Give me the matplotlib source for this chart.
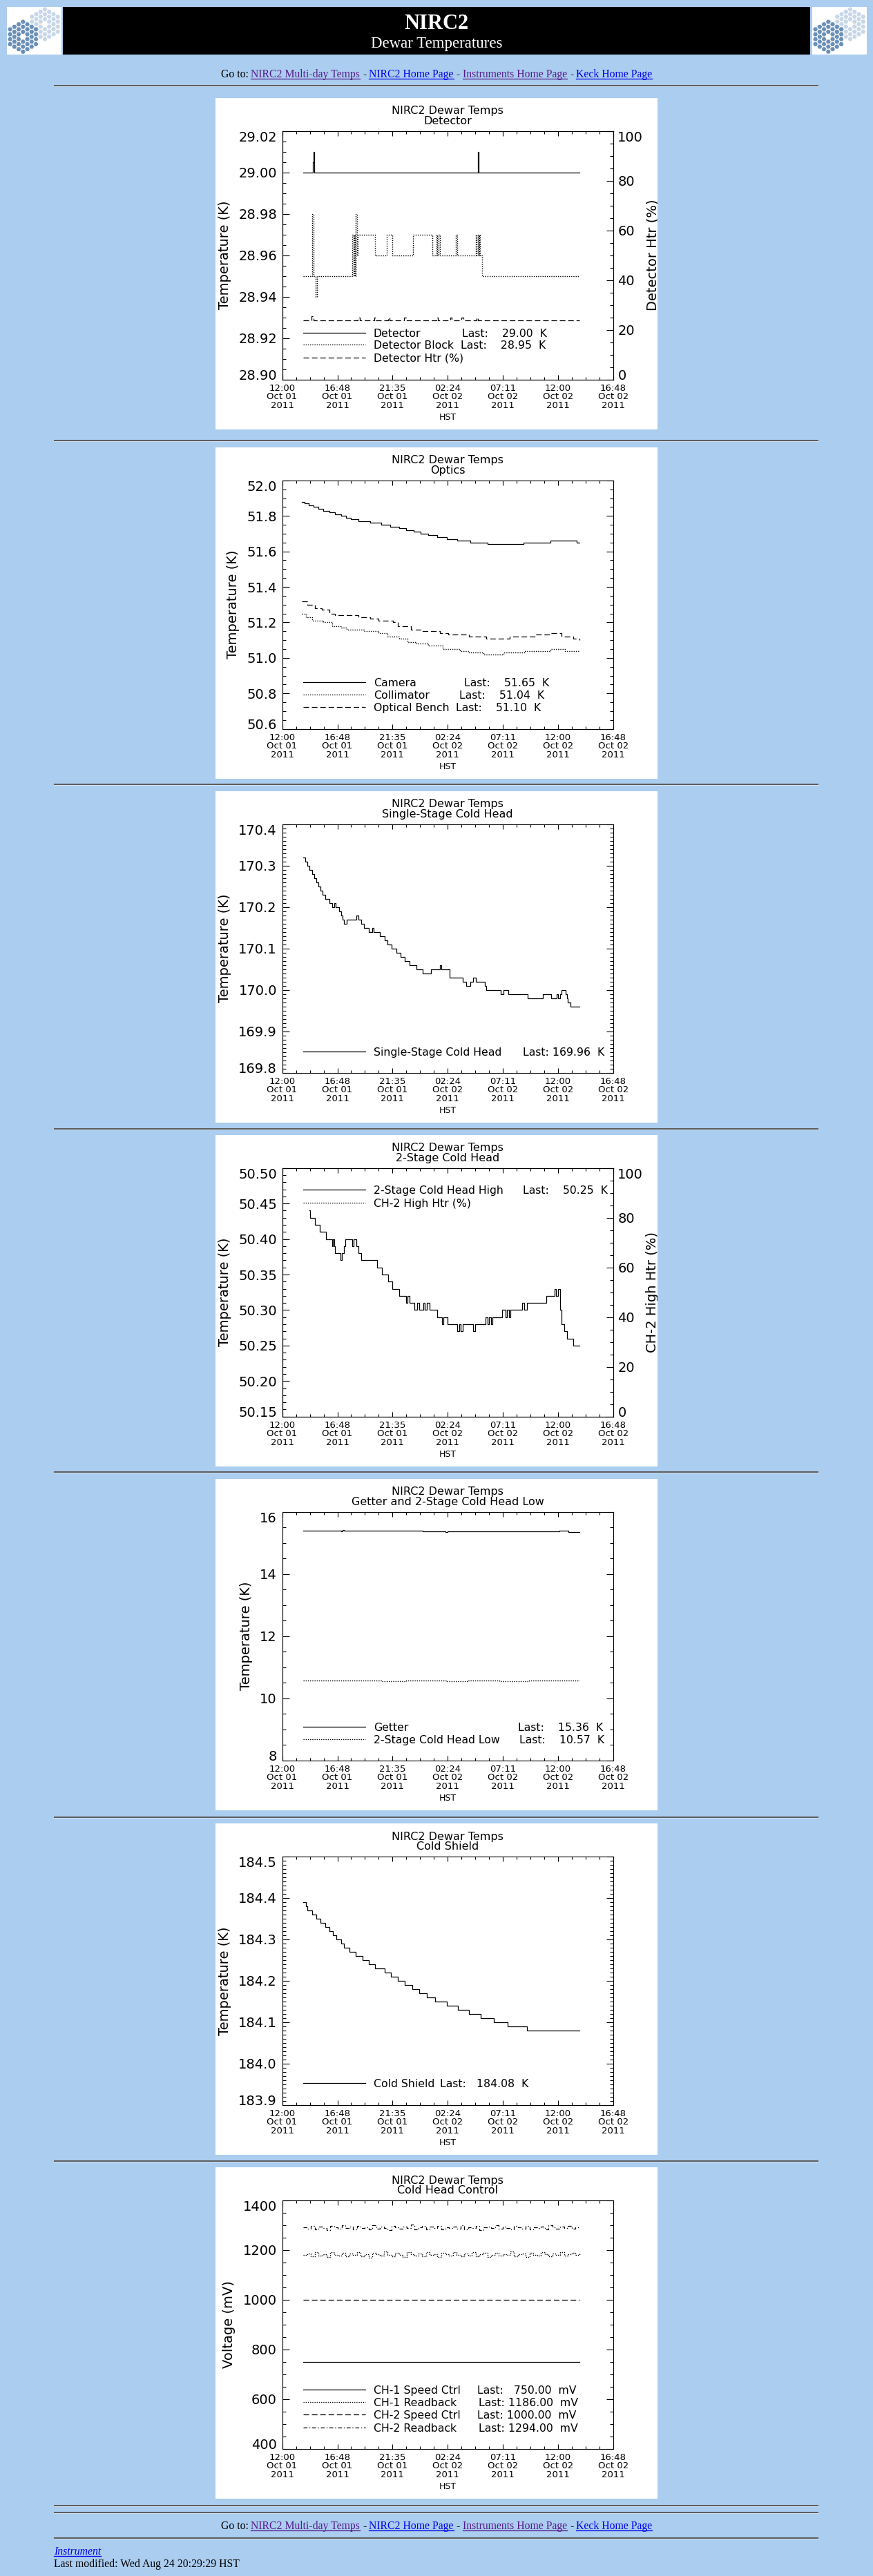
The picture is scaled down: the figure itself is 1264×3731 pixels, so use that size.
import numpy as np
import matplotlib
matplotlib.use('Agg')
import matplotlib.pyplot as plt
from matplotlib.patches import Rectangle, RegularPolygon
from matplotlib.ticker import FormatStrFormatter

W, H = 1264, 3731
PAGE_BG = '#abcdef'
LINK = '#0000ee'
VISITED = '#551a8b'

plt.rcParams['font.family'] = ['DejaVu Sans']
plt.rcParams['lines.scale_dashes'] = False

# ---- time axis: hours after 12:00 Oct 01 2011 (HST) ----
tick_hours = [0.0, 4.8, 9.6, 14.4, 19.2, 24.0, 28.8]
tick_labels = ['12:00\nOct 01\n2011', '16:48\nOct 01\n2011', '21:35\nOct 01\n2011',
               '02:24\nOct 02\n2011', '07:11\nOct 02\n2011', '12:00\nOct 02\n2011',
               '16:48\nOct 02\n2011']

# ---- Detector ----
det_hours = [1.82, 2.62, 2.66, 2.70, 2.76, 16.96, 17.00, 17.04, 17.10, 25.84]
det_temp = [29.00, 29.00, 29.005, 29.01, 29.00, 29.00, 29.005, 29.01, 29.00, 29.00]
block_hours = [1.82, 2.62, 2.74, 2.90, 3.00, 6.12, 6.19, 6.27, 6.35, 6.42,
               6.50, 6.58, 8.05, 9.10, 9.55, 11.35, 13.08, 13.40, 13.48, 13.60,
               13.70, 15.10, 15.20, 16.86, 16.93, 17.00, 17.08, 17.15, 17.23, 17.40,
               25.84]
block_temp = [28.95, 28.98, 28.95, 28.94, 28.95, 28.97, 28.95, 28.97, 28.95, 28.98,
              28.96, 28.97, 28.96, 28.97, 28.96, 28.97, 28.96, 28.97, 28.96, 28.97,
              28.96, 28.97, 28.96, 28.97, 28.96, 28.97, 28.96, 28.97, 28.96, 28.95,
              28.95]
htr_hours = [1.82, 2.55, 2.70, 6.60, 6.75, 8.00, 8.15, 9.20, 9.35, 10.60,
             10.75, 13.40, 13.55, 14.60, 14.75, 15.60, 15.75, 16.90, 17.05, 25.84]
htr_pct = [23.8, 25.5, 23.8, 25.0, 23.8, 25.0, 23.8, 25.0, 23.8, 25.0,
           23.8, 25.0, 23.8, 25.0, 23.8, 25.0, 23.8, 25.0, 23.8, 23.8]

# ---- Optics ----
cam_hours = [1.69, 1.95, 2.33, 2.71, 3.14, 3.59, 4.10, 4.60, 5.11, 5.56,
             5.99, 6.62, 7.64, 8.60, 9.41, 10.16, 10.80, 11.43, 12.06, 12.69,
             13.50, 14.34, 15.22, 16.36, 17.88, 20.99, 23.31, 25.64, 25.84]
cam_temp = [51.88, 51.87, 51.86, 51.85, 51.84, 51.83, 51.82, 51.81, 51.80, 51.79,
            51.78, 51.77, 51.76, 51.75, 51.74, 51.73, 51.72, 51.71, 51.70, 51.69,
            51.68, 51.67, 51.66, 51.65, 51.64, 51.65, 51.66, 51.65, 51.65]
coll_hours = [1.69, 2.07, 2.58, 3.59, 4.35, 5.11, 5.61, 7.13, 8.39, 9.15,
              10.16, 10.92, 11.68, 12.69, 13.96, 15.47, 16.23, 17.50, 19.27, 21.04,
              23.31, 24.58, 25.59, 25.84]
coll_temp = [51.25, 51.23, 51.21, 51.20, 51.18, 51.17, 51.16, 51.15, 51.14, 51.12,
             51.11, 51.09, 51.08, 51.07, 51.05, 51.04, 51.03, 51.02, 51.03, 51.04,
             51.05, 51.04, 51.04, 51.04]
bench_hours = [1.69, 2.20, 2.83, 3.46, 4.10, 4.60, 6.62, 7.64, 8.39, 9.66,
               10.04, 11.18, 12.19, 13.71, 14.46, 16.23, 17.75, 19.77, 22.05, 23.31,
               24.32, 25.34, 25.84]
bench_temp = [51.32, 51.30, 51.28, 51.27, 51.25, 51.24, 51.23, 51.22, 51.21, 51.20,
              51.18, 51.16, 51.15, 51.14, 51.13, 51.12, 51.11, 51.12, 51.13, 51.14,
              51.12, 51.11, 51.10]

# ---- Single-stage cold head ----
cold1_hours = [1.82, 2.00, 2.20, 2.38, 2.58, 2.76, 2.96, 3.14, 3.34, 3.51,
               3.72, 4.10, 4.35, 4.53, 4.65, 4.98, 5.11, 5.23, 5.36, 5.61,
               6.45, 6.62, 6.88, 7.13, 7.51, 7.81, 7.94, 8.52, 8.90, 9.15,
               9.53, 9.91, 10.29, 10.67, 11.05, 11.68, 12.19, 12.95, 13.71, 13.86,
               14.59, 15.73, 15.98, 16.36, 16.61, 16.87, 17.62, 17.75, 19.01, 19.22,
               19.65, 21.34, 22.68, 23.39, 23.89, 23.99, 24.15, 24.27, 24.63, 24.75,
               24.83, 25.08, 25.84]
cold1_temp = [170.32, 170.31, 170.30, 170.29, 170.28, 170.27, 170.26, 170.25, 170.24, 170.23,
              170.22, 170.21, 170.20, 170.21, 170.20, 170.19, 170.18, 170.17, 170.16, 170.17,
              170.18, 170.17, 170.16, 170.15, 170.14, 170.15, 170.14, 170.13, 170.12, 170.11,
              170.10, 170.09, 170.08, 170.07, 170.06, 170.05, 170.04, 170.05, 170.06, 170.05,
              170.03, 170.02, 170.01, 170.02, 170.03, 170.02, 170.01, 170.00, 169.99, 170.00,
              169.99, 169.98, 169.99, 169.98, 169.99, 169.98, 169.99, 170.00, 169.99, 169.98,
              169.97, 169.96, 169.96]

# ---- 2-stage cold head (high) ----
cold2_hours = [2.38, 2.45, 2.83, 3.29, 3.79, 4.35, 4.42, 4.53, 4.60, 5.06,
               5.19, 5.36, 5.51, 6.12, 6.22, 6.45, 6.62, 6.85, 8.27, 8.70,
               9.20, 9.55, 10.18, 10.80, 10.88, 11.10, 11.50, 11.75, 11.90, 12.25,
               12.40, 12.55, 12.85, 13.50, 13.90, 14.00, 14.40, 15.20, 15.38, 15.50,
               15.68, 16.60, 16.80, 17.70, 17.85, 18.00, 18.15, 18.30, 19.15, 19.40,
               19.55, 19.72, 19.85, 20.85, 21.05, 21.30, 22.95, 23.72, 23.82, 24.02,
               24.15, 24.20, 24.32, 24.55, 24.80, 25.30, 25.84]
cold2_temp = [50.44, 50.43, 50.42, 50.41, 50.40, 50.39, 50.40, 50.39, 50.38, 50.37,
              50.38, 50.39, 50.40, 50.39, 50.40, 50.39, 50.38, 50.37, 50.36, 50.35,
              50.34, 50.33, 50.32, 50.31, 50.32, 50.31, 50.30, 50.31, 50.30, 50.31,
              50.30, 50.31, 50.30, 50.29, 50.28, 50.29, 50.28, 50.27, 50.28, 50.27,
              50.28, 50.27, 50.28, 50.29, 50.28, 50.29, 50.28, 50.29, 50.30, 50.29,
              50.30, 50.29, 50.30, 50.31, 50.30, 50.31, 50.32, 50.33, 50.32, 50.33,
              50.32, 50.30, 50.28, 50.27, 50.26, 50.25, 50.25]

# ---- Getter and 2-stage cold head (low) ----
getter_hours = [1.82, 5.16, 5.25, 5.40, 5.70, 12.20, 12.30, 12.60, 14.20, 14.40,
                14.90, 24.00, 24.10, 24.90, 25.84]
getter_temp = [15.40, 15.38, 15.41, 15.39, 15.39, 15.37, 15.38, 15.37, 15.36, 15.38,
               15.37, 15.37, 15.39, 15.36, 15.36]
low_hours = [1.82, 5.5, 8.7, 10.8, 14.3, 16.2, 18.9, 21.5, 25.84]
low_temp = [10.57, 10.58, 10.56, 10.57, 10.55, 10.58, 10.56, 10.57, 10.57]

# ---- Cold shield ----
shield_hours = [1.82, 2.07, 2.20, 2.58, 2.96, 3.34, 3.72, 4.10, 4.40, 4.73,
                5.11, 5.36, 5.87, 6.37, 7.00, 7.51, 8.09, 8.90, 9.46, 10.04,
                10.67, 11.30, 11.93, 12.57, 13.33, 14.34, 15.27, 16.23, 17.29, 18.38,
                19.60, 21.29, 25.84]
shield_temp = [184.39, 184.38, 184.37, 184.36, 184.35, 184.34, 184.33, 184.32, 184.31, 184.30,
               184.29, 184.28, 184.27, 184.26, 184.25, 184.24, 184.23, 184.22, 184.21, 184.20,
               184.19, 184.18, 184.17, 184.16, 184.15, 184.14, 184.13, 184.12, 184.11, 184.10,
               184.09, 184.08, 184.08]

# ---- Cold head control (mV) ----
ctrl_hours = [1.84, 25.84]
ch1_speed = [750, 750]
ch2_speed = [1000, 1000]
readback_hours = [1.84 + i / 3 for i in range(73)]
ch1_readback = [1180, 1186, 1174, 1190, 1178, 1183, 1171, 1192, 1181, 1176,
                1188, 1173, 1185, 1179, 1191, 1175, 1184, 1170, 1189, 1182,
                1177, 1193, 1180, 1174, 1187, 1181, 1172, 1190, 1183, 1178,
                1186, 1175, 1192, 1179, 1184, 1171, 1188, 1182, 1176, 1191,
                1180, 1173, 1185, 1178, 1190, 1174, 1183, 1187, 1172, 1181,
                1189, 1176, 1184, 1179, 1193, 1175, 1182, 1186, 1171, 1188,
                1180, 1177, 1191, 1183, 1174, 1185, 1179, 1190, 1176, 1182,
                1187, 1180, 1186]
ch2_readback = [1292, 1286, 1298, 1284, 1295, 1289, 1281, 1297, 1290, 1285,
                1300, 1287, 1293, 1282, 1296, 1288, 1291, 1283, 1299, 1286,
                1294, 1289, 1280, 1297, 1292, 1285, 1295, 1288, 1301, 1284,
                1290, 1296, 1283, 1293, 1287, 1298, 1282, 1291, 1289, 1295,
                1286, 1299, 1284, 1292, 1288, 1296, 1281, 1290, 1294, 1287,
                1300, 1285, 1293, 1289, 1283, 1297, 1291, 1286, 1298, 1284,
                1292, 1288, 1295, 1282, 1299, 1290, 1286, 1294, 1289, 1297,
                1285, 1292, 1294]

# IDL linestyles, dash lengths in points (not scaled with width)
STYLES = {'solid': '-', 'dot': (0, (1.0, 1.3)), 'dash': (0, (5.8, 2.9)),
          'dashdot': (0, (4.0, 2.0, 1.0, 2.0))}

fig = plt.figure(figsize=(W / 100, H / 100), dpi=100, facecolor=PAGE_BG)
page = fig.add_axes([0, 0, 1, 1])
page.set_xlim(0, W)
page.set_ylim(H, 0)
page.axis('off')
renderer = fig.canvas.get_renderer()


def px_axes(x0, y0, w, h):
    return fig.add_axes([x0 / W, 1 - (y0 + h) / H, w / W, h / H])


def hrule(y):
    page.plot([78, 1185], [y, y], color='#5a5a5a', lw=1.4, solid_capstyle='butt')
    page.plot([78, 1185], [y + 1.2, y + 1.2], color='#d8e6f4', lw=0.6)


def logo(x0, y0):
    bg = Rectangle((x0, y0), 79, 69, facecolor='white', edgecolor='none')
    page.add_patch(bg)
    s = 7.2
    for (cx, cy), col in (((55, 25), '#c8d7e8'), ((23.3, 43.2), '#6a8fb8')):
        for q in range(-3, 4):
            for r in range(-3, 4):
                if abs(q + r) > 3 or (q == 0 and r == 0):
                    continue
                hx = x0 + cx + q * s * np.sqrt(3) / 2
                hy = y0 + cy + (r + q / 2) * s
                seg = RegularPolygon((hx, hy), 6, radius=3.4, orientation=np.pi / 6,
                                     facecolor=col, edgecolor='none')
                page.add_patch(seg)
                seg.set_clip_path(bg)


def text_w(t):
    return t.get_window_extent(renderer).width


def link_bar(y_base, target_w=623):
    pieces = [('Go to:', 'black', False), ('NIRC2 Multi-day Temps', VISITED, True),
              ('-', 'black', False), ('NIRC2 Home Page', LINK, True),
              ('-', 'black', False), ('Instruments Home Page', VISITED, True),
              ('-', 'black', False), ('Keck Home Page', LINK, True)]
    kw = dict(family='Liberation Serif', va='baseline', ha='left')
    size = 12.0
    probe1 = page.text(0, 0, 'a a', size=size, **kw)
    probe2 = page.text(0, 0, 'aa', size=size, **kw)
    gap = text_w(probe1) - text_w(probe2)
    probe1.remove()
    probe2.remove()
    texts = [page.text(0, y_base, s, color=c, size=size, **kw) for s, c, _ in pieces]
    total = sum(text_w(t) for t in texts) + gap * (len(texts) - 1)
    scale = target_w / total
    for t in texts:
        t.set_fontsize(size * scale)
    gap *= scale
    widths = [text_w(t) for t in texts]
    x = 632 - (sum(widths) + gap * (len(texts) - 1)) / 2
    for t, w, (_, c, ul) in zip(texts, widths, pieces):
        t.set_x(x)
        if ul:
            page.plot([x, x + w], [y_base + 2.3] * 2, color=c, lw=0.9)
        x += w + gap
    return size * scale


# ---- page header ----
logo(10, 10)
logo(1176, 10)
page.add_patch(Rectangle((91, 10), 1082, 69, facecolor='black', edgecolor='none'))
page.text(632, 41.7, 'NIRC2', color='white', family='Liberation Serif', weight='bold',
          size=22, ha='center', va='baseline')
page.text(632, 69, 'Dewar Temperatures', color='white', family='Liberation Serif',
          size=16.5, ha='center', va='baseline')
link_size = link_bar(112)
hrule(124)

BOX_X = 312


def make_panel(top, subtitle, ylim, major, minor, fmt, ylabel, legend_rows, legend_y,
               right=None):
    box = px_axes(BOX_X, top, 640, 480)
    box.set_xlim(0, 640)
    box.set_ylim(480, 0)
    box.set_xticks([])
    box.set_yticks([])
    for sp in box.spines.values():
        sp.set_visible(False)
    box.set_facecolor('white')
    box.text(336.3, 17.5, 'NIRC2 Dewar Temps', ha='center', va='center_baseline', size=11.5)
    box.text(336.3, 32.2, subtitle, ha='center', va='center_baseline', size=11.5)
    box.text(336.3, 460.7, 'HST', ha='center', va='center_baseline', size=9)

    # legend drawn IDL-style inside the plot window
    for (name, style, last, last_x), y in zip(legend_rows, legend_y):
        box.plot([127, 217], [y, y], color='black', lw=0.9, linestyle=STYLES[style])
        box.text(228.7, y, name, va='center_baseline', size=11.3)
        if last:
            box.text(last_x, y, last, va='center_baseline', size=11.3)

    ax = px_axes(BOX_X + 96.6, top + 47.8, 479.4, 359.9)
    ax.set_facecolor('none')
    for sp in ax.spines.values():
        sp.set_linewidth(0.8)
    ax.set_xlim(0, 28.8)
    ax.set_xticks(tick_hours)
    ax.set_xticklabels(tick_labels, linespacing=0.95, size=9.5)
    ax.set_xticks(np.arange(0, 28.81, 1.2), minor=True)
    ax.set_ylim(*ylim)
    ax.set_yticks(np.arange(ylim[0], ylim[1] + major / 2, major))
    ax.set_yticks(np.arange(ylim[0], ylim[1] + minor / 2, minor), minor=True)
    ax.yaxis.set_major_formatter(FormatStrFormatter(fmt))
    ax.tick_params(axis='x', which='major', direction='in', length=5.2, width=0.8,
                   top=True, pad=4.2)
    ax.tick_params(axis='x', which='minor', direction='in', length=2.6, width=0.8, top=True)
    ax.tick_params(axis='y', which='major', direction='in', length=6.9, width=0.8,
                   right=right is None, pad=5.5, labelsize=14)
    ax.tick_params(axis='y', which='minor', direction='in', length=3.5, width=0.8,
                   right=right is None)
    ax.set_ylabel(ylabel, size=14, labelpad=7.5)

    ax2 = None
    if right is not None:
        ax2 = ax.twinx()
        ax2.set_ylim(0, 100)
        ax2.set_yticks(range(0, 101, 20))
        ax2.set_yticks(range(0, 101, 5), minor=True)
        ax2.tick_params(axis='y', which='major', direction='in', length=6.9, width=0.8,
                        pad=4.5, labelsize=14)
        ax2.tick_params(axis='y', which='minor', direction='in', length=3.5, width=0.8)
        for sp in ax2.spines.values():
            sp.set_linewidth(0.8)
        ax2.set_ylabel(right, size=14, labelpad=3)
        ax2.yaxis.label.set_clip_on(True)
        ax2.yaxis.label.set_clip_box(box.bbox)
        labs = ax2.get_yticklabels()
        labs[0].set_va('baseline')
        labs[-1].set_va('top')

    labs = ax.get_yticklabels()
    labs[0].set_va('baseline')
    labs[-1].set_va('top')
    return ax, ax2


def trace(ax, hours, vals, style, lw=0.9):
    ax.plot(hours, vals, color='black', lw=lw, linestyle=STYLES[style],
            drawstyle='steps-post')


# 1. Detector
ax, ax2 = make_panel(142, 'Detector', (28.90, 29.02), 0.02, 0.005, '%.2f', 'Temperature (K)',
                     [('Detector', 'solid', 'Last:    29.00  K', 356.7),
                      ('Detector Block', 'dot', 'Last:    28.95  K', 355.4),
                      ('Detector Htr (%)', 'dash', None, None)],
                     [339.7, 357.3, 375.7], right='Detector Htr (%)')
trace(ax, det_hours, det_temp, 'solid')
trace(ax, block_hours, block_temp, 'dot', lw=1.0)
trace(ax2, htr_hours, htr_pct, 'dash')
hrule(637.5)

# 2. Optics
ax, _ = make_panel(648, 'Optics', (50.6, 52.0), 0.2, 0.05, '%.1f', 'Temperature (K)',
                   [('Camera', 'solid', 'Last:    51.65  K', 359.6),
                    ('Collimator', 'dot', 'Last:    51.04  K', 353.3),
                    ('Optical Bench', 'dash', 'Last:    51.10  K', 347.8)],
                   [340.3, 358.0, 376.3])
trace(ax, cam_hours, cam_temp, 'solid')
trace(ax, coll_hours, coll_temp, 'dot', lw=1.0)
trace(ax, bench_hours, bench_temp, 'dash')
hrule(1136)

# 3. Single-stage cold head
ax, _ = make_panel(1146, 'Single-Stage Cold Head', (169.8, 170.4), 0.1, 0.01, '%.1f',
                   'Temperature (K)',
                   [('Single-Stage Cold Head', 'solid', 'Last: 169.96  K', 444.6)], [376.7])
trace(ax, cold1_hours, cold1_temp, 'solid')
hrule(1635)

# 4. 2-stage cold head
ax, ax2 = make_panel(1644, '2-Stage Cold Head', (50.15, 50.50), 0.05, 0.01, '%.2f',
                     'Temperature (K)',
                     [('2-Stage Cold Head High', 'solid', 'Last:    50.25  K', 444.6),
                      ('CH-2 High Htr (%)', 'dot', None, None)],
                     [79.3, 97.7], right='CH-2 High Htr (%)')
trace(ax, cold2_hours, cold2_temp, 'solid')
hrule(2132)

# 5. Getter and 2-stage low
ax, _ = make_panel(2142, 'Getter and 2-Stage Cold Head Low', (8, 16), 2, 0.5, '%d',
                   'Temperature (K)',
                   [('Getter', 'solid', 'Last:    15.36  K', 437.5),
                    ('2-Stage Cold Head Low', 'dot', 'Last:    10.57  K', 440.4)],
                   [358.7, 377.0])
trace(ax, getter_hours, getter_temp, 'solid')
trace(ax, low_hours, low_temp, 'dot', lw=1.0)
hrule(2631.5)

# 6. Cold shield
ax, _ = make_panel(2641, 'Cold Shield', (183.9, 184.5), 0.1, 0.01, '%.1f', 'Temperature (K)',
                   [('Cold Shield', 'solid', 'Last:   184.08  K', 324.7)], [375.7])
trace(ax, shield_hours, shield_temp, 'solid')
hrule(3130)

# 7. Cold head control
ax, _ = make_panel(3139, 'Cold Head Control', (400, 1400), 200, 50, '%d', 'Voltage (mV)',
                   [('CH-1 Speed Ctrl', 'solid', 'Last:   750.00  mV', 379.4),
                    ('CH-1 Readback', 'dot', 'Last: 1186.00  mV', 380.7),
                    ('CH-2 Speed Ctrl', 'dash', 'Last: 1000.00  mV', 379.4),
                    ('CH-2 Readback', 'dashdot', 'Last: 1294.00  mV', 380.7)],
                   [322.0, 340.0, 358.3, 376.7])
trace(ax, ctrl_hours, ch1_speed, 'solid')
trace(ax, readback_hours, ch1_readback, 'dot', lw=1.0)
trace(ax, ctrl_hours, ch2_speed, 'dash')
trace(ax, readback_hours, ch2_readback, 'dashdot')

# ---- page footer ----
hrule(3628.7)
hrule(3638.7)
link_bar(3662.7)
hrule(3675.7)
inst = page.text(78, 3700, 'Instrument', color=LINK, family='Liberation Serif',
                 style='italic', size=link_size, va='baseline')
page.plot([78, 78 + text_w(inst)], [3701.5, 3701.5], color=LINK, lw=0.9)
page.text(78, 3718.3, 'Last modified: Wed Aug 24 20:29:29 HST', color='black',
          family='Liberation Serif', size=link_size, va='baseline')

fig.savefig('out.png', dpi=100, facecolor=PAGE_BG)
